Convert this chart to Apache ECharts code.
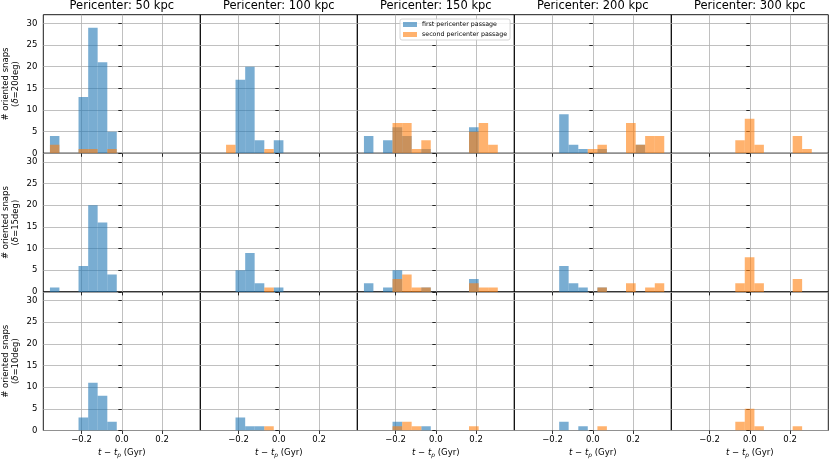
<!DOCTYPE html>
<html>
<head>
<meta charset="utf-8">
<script src="https://cdn.jsdelivr.net/npm/echarts@6/dist/echarts.min.js"></script>
<style>html,body{margin:0;padding:0;background:#fff}#c{width:830px;height:461px}</style>
</head>
<body>
<div id="c"></div>
<script>
// bin edges (Gyr), shared by all histograms
const binEdges = [-0.357, -0.310, -0.262, -0.215, -0.167, -0.120, -0.072, -0.025, 0.023, 0.070, 0.118, 0.165, 0.213, 0.260, 0.308, 0.355];
const pericenters = ['Pericenter: 50 kpc', 'Pericenter: 100 kpc', 'Pericenter: 150 kpc', 'Pericenter: 200 kpc', 'Pericenter: 300 kpc'];
const deltas = ['20deg', '15deg', '10deg'];
const xTicks = [-0.2, 0, 0.2];
const yTicks = [0, 5, 10, 15, 20, 25, 30];
const seriesNames = ['first pericenter passage', 'second pericenter passage'];

// counts per bin; one array per pericenter (50,100,150,200,300 kpc)
const firstD20 = [
  [4,0,0,13,29,21,5,0,0,0,0,0,0,0,0],
  [0,0,0,17,20,3,0,3,0,0,0,0,0,0,0],
  [4,0,3,6,4,0,1,0,0,0,0,6,0,0,0],
  [0,0,0,0,9,2,1,0,1,0,0,0,2,0,0],
  [0,0,0,0,0,0,0,0,0,0,0,0,0,0,0]
];
const secondD20 = [
  [2,0,0,1,1,0,1,0,0,0,0,0,0,0,0],
  [0,0,2,0,0,0,1,0,0,0,0,0,0,0,0],
  [0,0,0,7,7,1,3,0,0,0,0,5,7,2,0],
  [0,0,0,0,0,0,0,1,2,0,0,7,2,4,4],
  [0,0,0,0,0,0,3,8,2,0,0,0,4,1,0]
];
const firstD15 = [
  [1,0,0,6,20,16,4,0,0,0,0,0,0,0,0],
  [0,0,0,5,9,2,0,1,0,0,0,0,0,0,0],
  [2,0,1,5,0,0,1,0,0,0,0,3,0,0,0],
  [0,0,0,0,6,2,1,0,1,0,0,0,0,0,0],
  [0,0,0,0,0,0,0,0,0,0,0,0,0,0,0]
];
const secondD15 = [
  [0,0,0,0,0,0,0,0,0,0,0,0,0,0,0],
  [0,0,0,0,0,0,1,0,0,0,0,0,0,0,0],
  [0,0,0,3,4,1,1,0,0,0,0,2,1,1,0],
  [0,0,0,0,0,0,0,0,1,0,0,2,0,1,2],
  [0,0,0,0,0,0,2,8,2,0,0,0,3,0,0]
];
const firstD10 = [
  [0,0,0,3,11,8,2,0,0,0,0,0,0,0,0],
  [0,0,0,3,1,1,0,0,0,0,0,0,0,0,0],
  [0,0,0,2,0,0,1,0,0,0,0,0,0,0,0],
  [0,0,0,0,2,0,1,0,0,0,0,0,0,0,0],
  [0,0,0,0,0,0,0,0,0,0,0,0,0,0,0]
];
const secondD10 = [
  [0,0,0,0,0,0,0,0,0,0,0,0,0,0,0],
  [0,0,0,0,0,0,1,0,0,0,0,0,0,0,0],
  [0,0,0,1,2,1,0,0,0,0,0,1,0,0,0],
  [0,0,0,0,0,0,0,0,1,0,0,0,0,0,0],
  [0,0,0,0,0,0,2,5,1,0,0,0,1,0,0]
];
const firstRows = [firstD20, firstD15, firstD10];
const secondRows = [secondD20, secondD15, secondD10];

const FONT = 'DejaVu Sans';
const COLORS = ['rgba(31,119,180,0.6)', 'rgba(255,127,14,0.6)'];
const L0 = 43.3, PW = 157, T0 = 14.7, PH = 138.6;

function histData(counts) {
  const out = [];
  counts.forEach((c, i) => { if (c > 0) out.push([binEdges[i], binEdges[i + 1], c]); });
  return out;
}
function renderBar(params, api) {
  const p0 = api.coord([api.value(0), 0]);
  const p1 = api.coord([api.value(1), api.value(2)]);
  return {
    type: 'rect',
    shape: { x: p0[0], y: p1[1], width: p1[0] - p0[0], height: p0[1] - p1[1] },
    style: api.style()
  };
}
const fmtX = v => (Math.abs(v) < 1e-9 ? '0.0' : v.toFixed(1)).replace('-', '\u2212');

const grids = [], xAxes = [], yAxes = [], series = [], graphics = [];
for (let r = 0; r < 3; r++) {
  for (let c = 0; c < 5; c++) {
    const idx = r * 5 + c;
    grids.push({
      left: L0 + PW * c, top: T0 + PH * r, width: PW, height: PH,
      show: true, borderColor: '#000', borderWidth: 0.9, backgroundColor: 'transparent',
      containLabel: false, outerBoundsMode: 'none'
    });
    const bottom = r === 2;
    xAxes.push({
      type: 'value', gridIndex: idx, min: -0.39, max: 0.39,
      axisLine: { show: false },
      axisTick: { show: true, inside: false, length: 3.5, customValues: xTicks, lineStyle: { color: '#000', width: 0.8 } },
      axisLabel: { show: bottom, customValues: xTicks, formatter: fmtX, margin: 5, fontFamily: FONT, fontSize: 8.5, color: '#000' },
      splitLine: { show: true, lineStyle: { color: '#b0b0b0', width: 0.8 } },
      name: bottom ? '{i|t} \u2212 {i|t}{s|p} (Gyr)' : '',
      nameLocation: 'middle', nameGap: 17, nameMoveOverlap: false,
      nameTextStyle: {
        fontFamily: FONT, fontSize: 8.5, color: '#000',
        rich: {
          i: { fontFamily: FONT, fontSize: 8.5, fontStyle: 'italic', color: '#000' },
          s: { fontFamily: FONT, fontSize: 6, fontStyle: 'italic', color: '#000', padding: [5, 0, 0, 0] }
        }
      }
    });
    const first = c === 0;
    yAxes.push({
      type: 'value', gridIndex: idx, min: 0, max: 32,
      axisLine: { show: false },
      axisTick: { show: true, inside: false, length: 3.5, customValues: yTicks, lineStyle: { color: '#000', width: 0.8 } },
      axisLabel: { show: first, customValues: yTicks, margin: 6, fontFamily: FONT, fontSize: 8.5, color: '#000' },
      splitLine: { show: true, lineStyle: { color: '#b0b0b0', width: 0.8 } },
      name: first ? '# oriented snaps\n({d|\u03b4}=' + deltas[r] + ')' : '',
      nameLocation: 'middle', nameGap: 22, nameRotate: 90, nameMoveOverlap: false,
      nameTextStyle: {
        fontFamily: FONT, fontSize: 8.5, color: '#000', lineHeight: 10.5, align: 'center',
        rich: { d: { fontFamily: FONT, fontSize: 8.5, fontStyle: 'italic', color: '#000' } }
      }
    });
    const sets = [firstRows[r][c], secondRows[r][c]];
    sets.forEach((counts, k) => {
      series.push({
        type: 'custom', name: seriesNames[k],
        xAxisIndex: idx, yAxisIndex: idx,
        renderItem: renderBar,
        encode: { x: [0, 1], y: 2 },
        itemStyle: { color: COLORS[k] },
        clip: true, silent: true, animation: false,
        data: histData(counts)
      });
    });
  }
}
pericenters.forEach((t, c) => {
  graphics.push({
    type: 'text', x: L0 + PW * c + PW / 2, y: 6.3,
    style: { text: t, fontFamily: FONT, fontSize: 11.5, fill: '#000', textAlign: 'center', textVerticalAlign: 'middle' }
  });
});

const chart = echarts.init(document.getElementById('c'), null, { renderer: 'canvas' });
chart.setOption({
  animation: false,
  backgroundColor: '#fff',
  grid: grids, xAxis: xAxes, yAxis: yAxes, series: series,
  graphic: graphics,
  legend: {
    data: seriesNames.map((n, k) => ({ name: n, itemStyle: { color: COLORS[k] } })),
    orient: 'vertical', left: 400, top: 19,
    itemWidth: 14, itemHeight: 5, itemGap: 3, icon: 'rect',
    padding: [2, 3, 2, 3],
    backgroundColor: 'rgba(255,255,255,0.8)', borderColor: '#ccc', borderWidth: 0.8, borderRadius: 2,
    textStyle: { fontFamily: FONT, fontSize: 6.3, color: '#000', lineHeight: 7 },
    selectedMode: false, z: 10
  }
});
</script>
</body>
</html>
